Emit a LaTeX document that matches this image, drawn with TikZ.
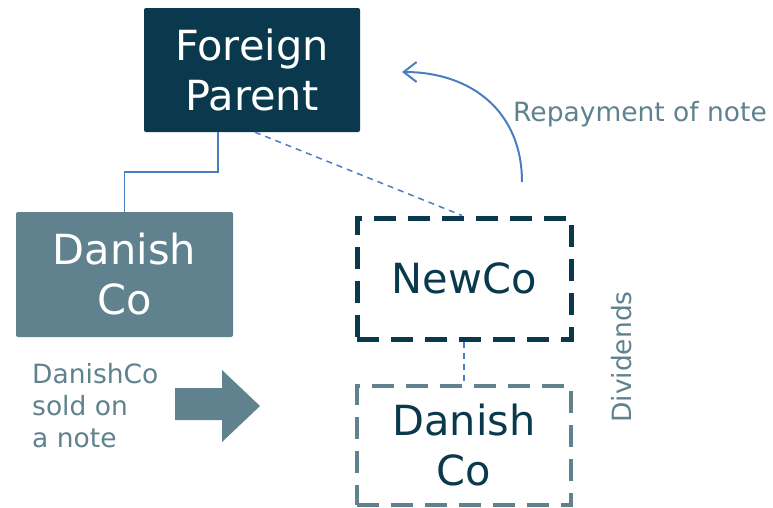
\documentclass[tikz,border=0pt]{standalone}
\usepackage{fontspec}
\setmainfont{DejaVu Sans}
\usetikzlibrary{arrows.meta}
\definecolor{darkteal}{HTML}{0A394D}
\definecolor{grayteal}{HTML}{5F828E}
\definecolor{linkblue}{HTML}{4A7EC0}
\begin{document}
\begin{tikzpicture}[x=1pt,y=-1pt,
  bigtext/.style={font=\fontsize{41.5}{50}\selectfont, align=center, inner sep=0pt},
  smalltext/.style={font=\fontsize{26.5}{32}\selectfont, text=grayteal, inner sep=0pt},
  solidbox/.style={bigtext, text=white, rounded corners=2pt},
  dashbox/.style={bigtext, text=darkteal, dash pattern=on 22pt off 12pt},
  conn/.style={draw=linkblue, line width=1.5pt},
  dconn/.style={draw=linkblue, line width=1.5pt, dash pattern=on 6pt off 5pt}]
\useasboundingbox (0,0) rectangle (773,507);
\node[solidbox, fill=darkteal, minimum width=216pt, minimum height=124pt] (fp) at (252,70) {Foreign\\Parent};
\node[solidbox, fill=grayteal, minimum width=217pt, minimum height=125pt] (dc) at (124.5,274.5) {Danish\\Co};
\node[dashbox, draw=darkteal, line width=5pt, minimum width=214pt, minimum height=121pt] (newco) at (464,278.5) {NewCo};
\node[dashbox, draw=grayteal, line width=4.5pt, minimum width=214pt, minimum height=119pt] (dc2) at (464,445.5) {Danish\\Co};
\draw[conn] (fp.south -| 218,0) -- (218,172) -| (dc.north);
\draw[dconn] ([xshift=3pt]fp.south) -- ([xshift=-2pt]newco.north);
\draw[dconn] (newco.south) -- (dc2.north);
\coordinate (cs) at (522,182);
\coordinate (ce) at (402,72);
\draw[draw=linkblue, line width=2pt, -{Straight Barb[length=13pt,width=20pt]}] (cs) .. controls (522,112) and (472,72) .. (ce);
\node[smalltext, anchor=west] (rep) at (513,114) {Repayment of note};
\node[smalltext, rotate=90] (div) at (622,357) {Dividends};
\node[smalltext, anchor=north west, align=left] (sold) at (32,363) {DanishCo\\sold on\\a note};
\fill[grayteal] (175,388) -- (222,388) -- (222,370) -- (260,406) -- (222,442) -- (222,420) -- (175,420) -- cycle;
\end{tikzpicture}
\end{document}
